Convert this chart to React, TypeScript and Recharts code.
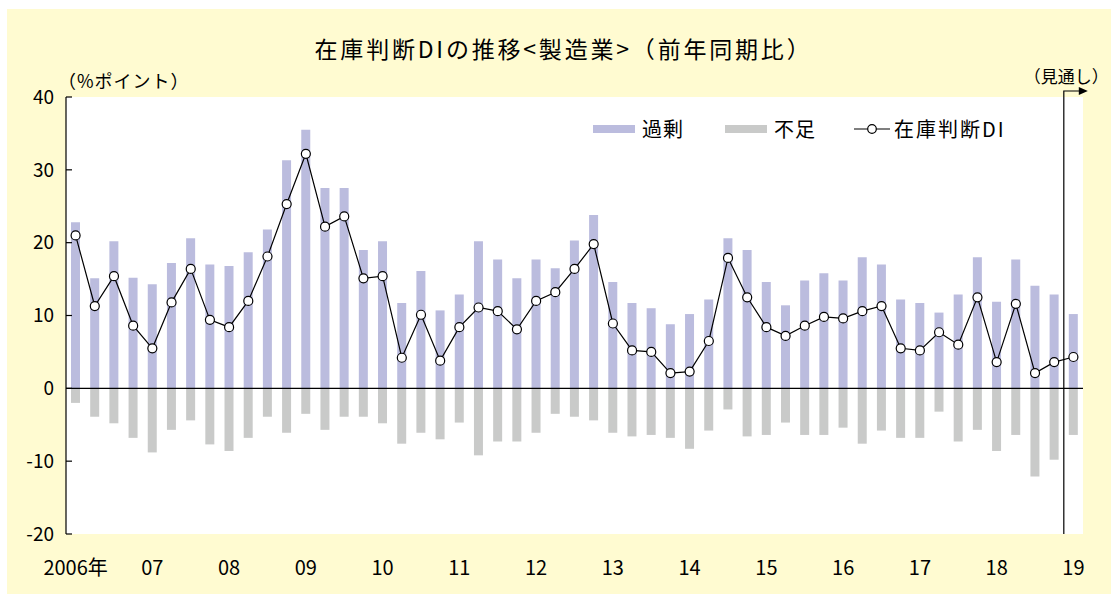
import React from 'react';
import { ComposedChart, Bar, Line, XAxis, YAxis, ReferenceLine, CartesianGrid, Legend } from 'recharts';

const FONT = '"Noto Sans CJK JP", "Noto Sans", sans-serif';

// quarters 2006Q1 .. 2019Q1 (last one is the forecast)
const quarters = [
  '06Q1', '06Q2', '06Q3', '06Q4', '07Q1', '07Q2', '07Q3', '07Q4',
  '08Q1', '08Q2', '08Q3', '08Q4', '09Q1', '09Q2', '09Q3', '09Q4',
  '10Q1', '10Q2', '10Q3', '10Q4', '11Q1', '11Q2', '11Q3', '11Q4',
  '12Q1', '12Q2', '12Q3', '12Q4', '13Q1', '13Q2', '13Q3', '13Q4',
  '14Q1', '14Q2', '14Q3', '14Q4', '15Q1', '15Q2', '15Q3', '15Q4',
  '16Q1', '16Q2', '16Q3', '16Q4', '17Q1', '17Q2', '17Q3', '17Q4',
  '18Q1', '18Q2', '18Q3', '18Q4', '19Q1',
];

const yearCats = ['06Q1', '07Q1', '08Q1', '09Q1', '10Q1', '11Q1', '12Q1', '13Q1', '14Q1', '15Q1', '16Q1', '17Q1', '18Q1', '19Q1'];
const yearLabels = ['2006年', '07', '08', '09', '10', '11', '12', '13', '14', '15', '16', '17', '18', '19'];

// 過剰
const excess = [
  22.8, 15.1, 20.2, 15.2, 14.3, 17.2, 20.6, 17.0, 16.8, 18.7, 21.8, 31.3, 35.5, 27.5, 27.5, 19.0, 20.2,
  11.7, 16.1, 10.7, 12.9, 20.2, 17.7, 15.1, 17.7, 16.5, 20.3, 23.8, 14.6, 11.7, 11.0, 8.8, 10.2, 12.2, 20.6,
  19.0, 14.6, 11.4, 14.8, 15.8, 14.8, 18.0, 17.0, 12.2, 11.7, 10.4, 12.9, 18.0, 11.9, 17.7, 14.1, 12.9, 10.2,
];

// 不足
const shortage = [
  -2.0, -3.9, -4.8, -6.8, -8.8, -5.7, -4.4, -7.7, -8.6, -6.8, -3.9, -6.1, -3.5, -5.7, -3.9, -3.9, -4.8,
  -7.6, -6.1, -7.0, -4.7, -9.2, -7.3, -7.3, -6.1, -3.5, -3.9, -4.4, -6.1, -6.6, -6.4, -6.8, -8.3, -5.8, -2.9,
  -6.6, -6.4, -4.7, -6.4, -6.4, -5.4, -7.6, -5.8, -6.8, -6.8, -3.2, -7.3, -5.7, -8.6, -6.4, -12.1, -9.8, -6.4,
];

// 在庫判断DI
const di = [
  21.0, 11.3, 15.4, 8.6, 5.5, 11.8, 16.4, 9.4, 8.4, 12.0, 18.1, 25.3, 32.2, 22.2, 23.6, 15.1, 15.4,
  4.2, 10.1, 3.8, 8.4, 11.1, 10.6, 8.1, 12.0, 13.2, 16.4, 19.8, 8.9, 5.2, 5.0, 2.1, 2.3, 6.5, 17.9,
  12.5, 8.4, 7.2, 8.6, 9.8, 9.6, 10.6, 11.3, 5.5, 5.2, 7.7, 6.0, 12.5, 3.6, 11.6, 2.1, 3.6, 4.3,
];

const yTicks = [-20, -10, 0, 10, 20, 30, 40];
const forecastCat = '19Q1'; // first forecast quarter

const data = quarters.map((q, i) => ({ q, excess: excess[i], shortage: shortage[i], di: di[i] }));

const yearOf: Record<string, string> = {};
yearCats.forEach((c, i) => {
  yearOf[c] = yearLabels[i];
});

const EXCESS_COLOR = '#BBBCDE';
const SHORT_COLOR = '#C9CAC9';

const CHART_W = 1111;
const CHART_H = 594;
const MARGIN = { top: 97, right: 28, bottom: 20, left: 6 };
const Y_AXIS_W = 60;
const BAND = (CHART_W - MARGIN.left - MARGIN.right - Y_AXIS_W) / quarters.length;

// separator drawn at the left edge of the forecast quarter, with the arrow and note
function ForecastMark(props: any) {
  const { viewBox } = props;
  if (!viewBox) return null;
  const x = viewBox.x - BAND / 2;
  const y = viewBox.y;
  const h = viewBox.height;
  return (
    <g>
      <path d={`M${x},${y + h} V${y - 6} H${x + 17}`} stroke="#000" strokeWidth={1.2} fill="none" />
      <path d={`M${x + 15},${y - 10} L${x + 24},${y - 6} L${x + 15},${y - 2} Z`} fill="#000" />
      <text x={x + 45} y={y - 14} textAnchor="end" fontSize={17} fill="#000" fontFamily={FONT}>
        （見通し）
      </text>
    </g>
  );
}

function renderLegend() {
  const txt = { fontSize: 20, color: '#000', letterSpacing: 1 };
  return (
    <div style={{ display: 'flex', alignItems: 'center', fontFamily: FONT }}>
      <span style={{ width: 42, height: 8, background: EXCESS_COLOR, marginRight: 7 }} />
      <span style={txt}>過剰</span>
      <span style={{ width: 42, height: 8, background: SHORT_COLOR, marginLeft: 41, marginRight: 7 }} />
      <span style={txt}>不足</span>
      <svg width={36} height={12} style={{ marginLeft: 38, marginRight: 4 }}>
        <line x1={0} y1={6} x2={36} y2={6} stroke="#000" strokeWidth={1.2} />
        <circle cx={18} cy={6} r={4.3} fill="#fff" stroke="#000" strokeWidth={1.2} />
      </svg>
      <span style={{ ...txt, letterSpacing: 2 }}>在庫判断DI</span>
    </div>
  );
}

export default function App() {
  return (
    <div style={{ position: 'absolute', left: 0, top: 0, width: CHART_W, height: CHART_H, background: '#fff', fontFamily: FONT }}>
      <div style={{ position: 'absolute', left: 7, top: 9, right: 0, bottom: 0, background: '#FFFBD1' }} />
      <div style={{ position: 'absolute', left: 8, top: 31, width: CHART_W, textAlign: 'center', fontSize: 23, letterSpacing: 2.8, color: '#000' }}>
        在庫判断DIの推移&lt;製造業&gt;（前年同期比）
      </div>
      <div style={{ position: 'absolute', left: 58, top: 67, fontSize: 18, letterSpacing: 1, color: '#000' }}>（%ポイント）</div>
      <div style={{ position: 'absolute', left: 0, top: 0 }}>
        <ComposedChart
          width={CHART_W}
          height={CHART_H}
          data={data}
          stackOffset="sign"
          barCategoryGap={0}
          margin={MARGIN}
        >
          <CartesianGrid horizontal={false} vertical={false} fill="#fff" stroke="none" />
          <XAxis
            dataKey="q"
            interval={0}
            axisLine={false}
            tickLine={false}
            height={40}
            tickMargin={21}
            tick={{ fontSize: 20, fill: '#000', fontFamily: FONT }}
            tickFormatter={(v: string) => yearOf[v] || ''}
          />
          <YAxis
            domain={[-20, 40]}
            ticks={yTicks}
            width={Y_AXIS_W}
            axisLine={{ stroke: '#000', strokeWidth: 1.2 }}
            tickLine={{ stroke: '#000', strokeWidth: 1.2 }}
            tickSize={-6}
            tickMargin={18}
            tick={{ fontSize: 19, fill: '#000', fontFamily: FONT }}
            allowDataOverflow
          />
          <Legend
            layout="horizontal"
            verticalAlign="middle"
            align="center"
            content={renderLegend}
            wrapperStyle={{ left: 593, top: 114, width: 'auto', height: 24 }}
          />
          <Bar dataKey="excess" name="過剰" stackId="s" fill={EXCESS_COLOR} barSize={9} isAnimationActive={false} />
          <Bar dataKey="shortage" name="不足" stackId="s" fill={SHORT_COLOR} barSize={9} isAnimationActive={false} />
          <ReferenceLine y={0} stroke="#000" strokeWidth={1.2} />
          <Line
            dataKey="di"
            name="在庫判断DI"
            stroke="#000"
            strokeWidth={1.2}
            dot={{ r: 4.5, fill: '#fff', stroke: '#000', strokeWidth: 1.2 }}
            isAnimationActive={false}
          />
          <ReferenceLine
            x={forecastCat}
            stroke="none"
            ifOverflow="visible"
            label={<ForecastMark />}
          />
        </ComposedChart>
      </div>
    </div>
  );
}
